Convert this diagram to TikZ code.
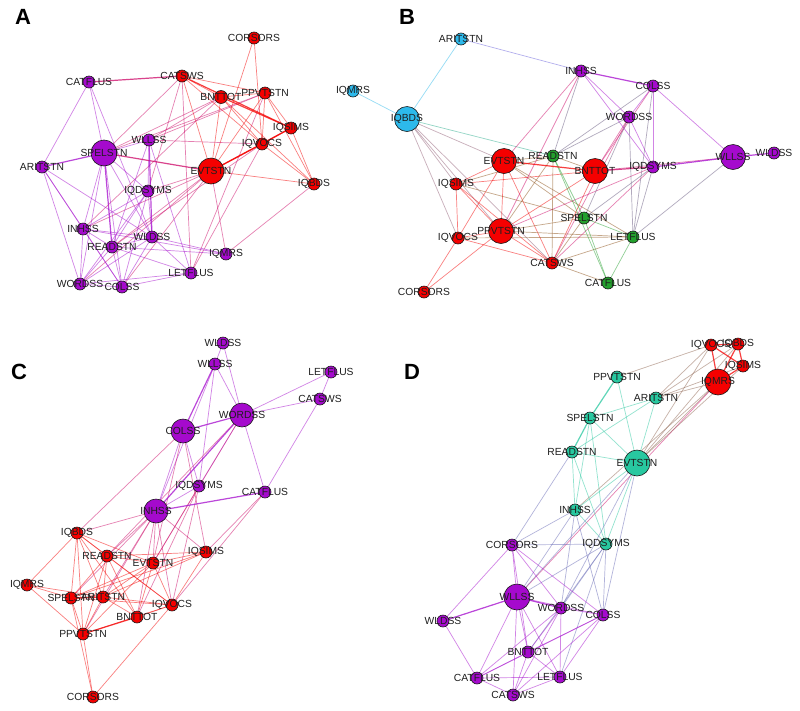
\documentclass[tikz,border=0pt]{standalone}
\usepackage{fontspec}
\setmainfont{Liberation Sans}
\definecolor{cred}{RGB}{245,0,0}
\definecolor{cpur}{RGB}{165,10,205}
\definecolor{cblu}{RGB}{45,185,235}
\definecolor{cgrn}{RGB}{35,160,45}
\definecolor{ctea}{RGB}{40,200,160}
\definecolor{txt}{RGB}{30,30,30}
\tikzset{
  vtx/.style={circle,inner sep=0pt,draw=black!90,line width=0.6pt},
  lbl/.style={inner sep=0pt,text=txt,font=\fontsize{10.3}{11}\selectfont},
  panel/.style={inner sep=0pt,font=\fontsize{22}{24}\selectfont\bfseries},
  edge/.style={line width=0.7pt,draw opacity=0.5},
  tedge/.style={line width=1.2pt,draw opacity=0.75}
}
\makeatletter
\newcommand\defnodes[2]{\foreach \n/\x/\y/\r/\c in #2{%
  \coordinate (#1-\n) at (\x,\y);
  \expandafter\xdef\csname nc@#1-\n\endcsname{\c}}}
\newcommand\drawnodes[2]{\foreach \n/\x/\y/\r/\c in #2{%
  \node[vtx,fill=\c,minimum size=2*\r] (#1-\n-v) at (\x,\y) {};}}
\newcommand\drawlabels[2]{\foreach \n/\x/\y/\r/\c in #2{%
  \node[lbl] (#1-\n-t) at (\x,\y) {\n};}}
\newcommand\edges[3]{\foreach \a/\b in {#3}{%
  \edef\ca{\csname nc@#1-\a\endcsname}\edef\cb{\csname nc@#1-\b\endcsname}%
  \draw[#2,draw=\ca!50!\cb] (#1-\a) -- (#1-\b);}}
\makeatother
\def\Anodes{CORSORS/254/38/6/cred, CATSWS/182/76/6/cred, CATFLUS/89/82/6/cpur, BNTTOT/221/97/6.5/cred, PPVTSTN/265/93/6/cred, IQSIMS/291/128/6/cred, IQVOCS/262/144/6/cred, WLLSS/149/140/6/cpur, SPELSTN/104/153/13/cpur, ARITSTN/42/167/6/cpur, EVTSTN/211/171/13/cred, IQBDS/314/184/6/cred, IQDSYMS/148/191/6/cpur, INHSS/83/229/6/cpur, WLDSS/152/237/6/cpur, READSTN/112/247/6/cpur, IQMRS/226/254/6/cpur, LETFLUS/191/273/6/cpur, WORDSS/80/284/6/cpur, COLSS/122/287/6/cpur}
\def\Bnodes{ARITSTN/461/39/6/cblu, IQMRS/353/91/6/cblu, IQBDS/407/119/12.5/cblu, INHSS/581/71/6/cpur, COLSS/653/86/6/cpur, WORDSS/629/117/6/cpur, WLLSS/733/157/12.5/cpur, WLDSS/774/153/6/cpur, EVTSTN/504/161/12.5/cred, READSTN/553/156/6/cgrn, BNTTOT/595/171/12.5/cred, IQDSYMS/653/167/6/cpur, IQSIMS/456/184/6/cred, SPELSTN/584/218/6/cgrn, PPVTSTN/501/231/12.5/cred, IQVOCS/458/238/6/cred, LETFLUS/633/237/6/cgrn, CATSWS/552/263/6/cred, CATFLUS/608/283/6/cgrn, CORSORS/424/292/6/cred}
\def\Cnodes{WLDSS/223/343/6/cpur, WLLSS/215/364/6/cpur, LETFLUS/331/372/6/cpur, CATSWS/320/399/6/cpur, WORDSS/242/415/12/cpur, COLSS/183/431/12/cpur, IQDSYMS/199/486/6/cpur, CATFLUS/265/492/6/cpur, INHSS/156/511/12/cpur, IQBDS/77/533/6/cred, READSTN/107/556/6/cred, IQSIMS/206/552/6/cred, EVTSTN/153/563/6/cred, IQMRS/27/585/6/cred, SPELSTN/71/598/6/cred, ARITSTN/103/597/6/cred, IQVOCS/172/605/6/cred, BNTTOT/137/617/6/cred, PPVTSTN/83/634/6/cred, CORSORS/93/697/6/cred}
\def\Dnodes{IQVOCS/711/345/6/cred, IQBDS/738/344/6/cred, IQSIMS/743/366/6/cred, IQMRS/718/382/13/cred, PPVTSTN/617/377/6/ctea, ARITSTN/656/398/6/ctea, SPELSTN/590/418/6/ctea, READSTN/572/452/6/ctea, EVTSTN/637/463/13/ctea, INHSS/575/510/6/ctea, CORSORS/512/545/6/cpur, IQDSYMS/606/544/6/ctea, WLLSS/517/597/13/cpur, WORDSS/561/608/6/cpur, COLSS/603/615/6/cpur, WLDSS/443/621/6/cpur, BNTTOT/528/652/6/cpur, CATFLUS/477/678/6/cpur, LETFLUS/560/677/6/cpur, CATSWS/513/695/6/cpur}
\begin{document}
\begin{tikzpicture}[x=1pt,y=-1pt]
\fill[white] (0,0) rectangle (800,710);
\useasboundingbox (0,0) rectangle (800,710);
\defnodes{A}{\Anodes}
\defnodes{B}{\Bnodes}
\defnodes{C}{\Cnodes}
\defnodes{D}{\Dnodes}
% ---------- panel A edges
\edges{A}{edge}{EVTSTN/IQBDS, EVTSTN/BNTTOT, EVTSTN/PPVTSTN, EVTSTN/CATSWS, EVTSTN/IQMRS, EVTSTN/INHSS, EVTSTN/READSTN, EVTSTN/WORDSS, EVTSTN/COLSS, EVTSTN/IQDSYMS, EVTSTN/CORSORS, BNTTOT/CATSWS, BNTTOT/PPVTSTN, BNTTOT/IQVOCS, BNTTOT/SPELSTN, BNTTOT/WLLSS, BNTTOT/INHSS, BNTTOT/IQBDS, CATSWS/PPVTSTN, CATSWS/IQVOCS, CATSWS/SPELSTN, CATSWS/LETFLUS, CATSWS/IQDSYMS, PPVTSTN/IQSIMS, PPVTSTN/IQVOCS, PPVTSTN/IQBDS, PPVTSTN/LETFLUS, PPVTSTN/SPELSTN, PPVTSTN/WLLSS, IQSIMS/IQBDS, IQVOCS/IQBDS, IQVOCS/WLLSS, IQVOCS/READSTN, IQVOCS/LETFLUS, IQBDS/IQMRS, CORSORS/IQVOCS, CATFLUS/SPELSTN, CATFLUS/ARITSTN, CATFLUS/WLDSS, SPELSTN/WLLSS, SPELSTN/IQDSYMS, SPELSTN/INHSS, SPELSTN/WORDSS, SPELSTN/COLSS, SPELSTN/WLDSS, ARITSTN/INHSS, ARITSTN/COLSS, ARITSTN/WLDSS, ARITSTN/WORDSS, WLLSS/IQDSYMS, WLLSS/LETFLUS, WLLSS/READSTN, IQDSYMS/INHSS, IQDSYMS/READSTN, IQDSYMS/WLDSS, IQDSYMS/COLSS, IQDSYMS/WORDSS, INHSS/READSTN, INHSS/WLDSS, INHSS/IQMRS, INHSS/WORDSS, INHSS/COLSS, READSTN/WLDSS, READSTN/IQMRS, READSTN/WORDSS, READSTN/COLSS, READSTN/LETFLUS, WLDSS/IQMRS, WLDSS/COLSS, WLDSS/WORDSS, WLDSS/LETFLUS, WORDSS/COLSS, WORDSS/LETFLUS, COLSS/LETFLUS}
\edges{A}{tedge}{CATFLUS/CATSWS, EVTSTN/SPELSTN, IQVOCS/EVTSTN, IQSIMS/EVTSTN, IQSIMS/IQVOCS, BNTTOT/IQSIMS, CATSWS/IQSIMS, SPELSTN/ARITSTN, WLLSS/WLDSS, SPELSTN/READSTN}
% ---------- panel B edges
\edges{B}{edge}{IQMRS/IQBDS, ARITSTN/IQBDS, IQBDS/IQVOCS, ARITSTN/INHSS, IQBDS/EVTSTN, IQBDS/IQSIMS, IQBDS/PPVTSTN, IQBDS/READSTN, IQBDS/CATSWS, EVTSTN/IQSIMS, EVTSTN/PPVTSTN, EVTSTN/IQVOCS, EVTSTN/CATSWS, EVTSTN/READSTN, EVTSTN/SPELSTN, EVTSTN/LETFLUS, EVTSTN/INHSS, BNTTOT/IQSIMS, BNTTOT/PPVTSTN, BNTTOT/CATSWS, BNTTOT/WLLSS, BNTTOT/WORDSS, BNTTOT/COLSS, BNTTOT/READSTN, IQSIMS/IQVOCS, IQSIMS/PPVTSTN, IQSIMS/CATSWS, IQSIMS/SPELSTN, IQSIMS/READSTN, PPVTSTN/IQVOCS, PPVTSTN/CATSWS, PPVTSTN/CORSORS, PPVTSTN/READSTN, PPVTSTN/SPELSTN, PPVTSTN/LETFLUS, PPVTSTN/INHSS, PPVTSTN/IQDSYMS, IQVOCS/CORSORS, IQVOCS/CATSWS, IQVOCS/LETFLUS, CATSWS/CATFLUS, CATSWS/LETFLUS, CATSWS/IQDSYMS, CATSWS/WORDSS, CATSWS/READSTN, CATSWS/SPELSTN, INHSS/WORDSS, INHSS/IQDSYMS, INHSS/READSTN, COLSS/WORDSS, COLSS/WLLSS, COLSS/IQDSYMS, COLSS/READSTN, COLSS/LETFLUS, WORDSS/IQDSYMS, WORDSS/READSTN, WORDSS/LETFLUS, WORDSS/SPELSTN, IQDSYMS/SPELSTN, IQDSYMS/LETFLUS, WLLSS/LETFLUS, READSTN/SPELSTN, READSTN/CATFLUS, SPELSTN/LETFLUS, SPELSTN/CATFLUS, LETFLUS/CATFLUS}
\edges{B}{tedge}{INHSS/COLSS, EVTSTN/BNTTOT, BNTTOT/IQDSYMS, IQDSYMS/WLLSS, WLLSS/WLDSS}
% ---------- panel C edges
\edges{C}{edge}{WLDSS/WLLSS, WLDSS/WORDSS, WLLSS/WORDSS, WLLSS/INHSS, WLLSS/IQDSYMS, LETFLUS/CATSWS, LETFLUS/WORDSS, CATSWS/WORDSS, CATSWS/CATFLUS, WORDSS/CATFLUS, WORDSS/IQDSYMS, WORDSS/EVTSTN, WORDSS/READSTN, COLSS/INHSS, COLSS/IQDSYMS, COLSS/IQBDS, COLSS/IQSIMS, COLSS/EVTSTN, IQDSYMS/INHSS, IQDSYMS/EVTSTN, IQDSYMS/IQVOCS, IQDSYMS/BNTTOT, INHSS/IQBDS, INHSS/READSTN, INHSS/EVTSTN, INHSS/IQSIMS, INHSS/SPELSTN, INHSS/ARITSTN, INHSS/BNTTOT, INHSS/PPVTSTN, INHSS/IQVOCS, CATFLUS/IQSIMS, CATFLUS/IQVOCS, IQBDS/READSTN, IQBDS/IQMRS, IQBDS/SPELSTN, IQBDS/ARITSTN, IQBDS/PPVTSTN, IQBDS/EVTSTN, IQBDS/BNTTOT, IQBDS/IQVOCS, READSTN/EVTSTN, READSTN/IQSIMS, READSTN/SPELSTN, READSTN/ARITSTN, READSTN/PPVTSTN, READSTN/BNTTOT, READSTN/IQVOCS, EVTSTN/IQSIMS, EVTSTN/SPELSTN, EVTSTN/ARITSTN, EVTSTN/PPVTSTN, EVTSTN/IQVOCS, EVTSTN/BNTTOT, IQSIMS/SPELSTN, IQSIMS/IQVOCS, IQSIMS/ARITSTN, IQMRS/SPELSTN, IQMRS/ARITSTN, IQMRS/PPVTSTN, SPELSTN/PPVTSTN, SPELSTN/IQVOCS, ARITSTN/IQVOCS, ARITSTN/PPVTSTN, ARITSTN/BNTTOT, IQVOCS/BNTTOT, IQVOCS/PPVTSTN, PPVTSTN/CORSORS, SPELSTN/CORSORS, IQVOCS/CORSORS}
\edges{C}{tedge}{WLLSS/COLSS, WORDSS/INHSS, COLSS/WORDSS, BNTTOT/PPVTSTN, SPELSTN/ARITSTN, INHSS/CATFLUS}
% ---------- panel D edges
\edges{D}{edge}{IQVOCS/PPVTSTN, IQVOCS/ARITSTN, IQVOCS/EVTSTN, IQBDS/EVTSTN, IQBDS/ARITSTN, IQMRS/ARITSTN, IQMRS/EVTSTN, IQMRS/WLLSS, IQSIMS/EVTSTN, IQMRS/INHSS, IQSIMS/ARITSTN, PPVTSTN/EVTSTN, ARITSTN/SPELSTN, ARITSTN/READSTN, ARITSTN/EVTSTN, SPELSTN/EVTSTN, SPELSTN/INHSS, SPELSTN/IQDSYMS, READSTN/EVTSTN, READSTN/INHSS, READSTN/IQDSYMS, EVTSTN/INHSS, EVTSTN/IQDSYMS, INHSS/IQDSYMS, READSTN/CORSORS, INHSS/CORSORS, INHSS/WLLSS, INHSS/WORDSS, INHSS/COLSS, EVTSTN/WORDSS, EVTSTN/COLSS, EVTSTN/WLLSS, IQDSYMS/CORSORS, IQDSYMS/WLLSS, IQDSYMS/WORDSS, IQDSYMS/COLSS, IQDSYMS/BNTTOT, IQDSYMS/LETFLUS, CORSORS/WLLSS, CORSORS/WLDSS, CORSORS/WORDSS, CORSORS/COLSS, CORSORS/BNTTOT, WLLSS/COLSS, WLLSS/BNTTOT, WLLSS/CATFLUS, WLLSS/LETFLUS, WLLSS/CATSWS, WORDSS/COLSS, WORDSS/BNTTOT, WORDSS/CATFLUS, WORDSS/LETFLUS, WORDSS/CATSWS, COLSS/BNTTOT, COLSS/CATFLUS, COLSS/LETFLUS, COLSS/CATSWS, WLDSS/CATFLUS, BNTTOT/CATFLUS, BNTTOT/LETFLUS, BNTTOT/CATSWS, CATFLUS/LETFLUS, CATFLUS/CATSWS, LETFLUS/CATSWS}
\edges{D}{tedge}{IQVOCS/IQBDS, IQVOCS/IQSIMS, IQVOCS/IQMRS, IQBDS/IQSIMS, IQBDS/IQMRS, IQSIMS/IQMRS, SPELSTN/READSTN, WLLSS/WLDSS, WLLSS/WORDSS, PPVTSTN/SPELSTN}
% ---------- nodes and labels
\drawnodes{A}{\Anodes}
\drawnodes{B}{\Bnodes}
\drawnodes{C}{\Cnodes}
\drawnodes{D}{\Dnodes}
\drawlabels{A}{\Anodes}
\drawlabels{B}{\Bnodes}
\drawlabels{C}{\Cnodes}
\drawlabels{D}{\Dnodes}
\node[panel] (pA) at (23,17) {A};
\node[panel] (pB) at (407,17) {B};
\node[panel] (pC) at (19,372) {C};
\node[panel] (pD) at (412,372) {D};
\end{tikzpicture}
\end{document}
